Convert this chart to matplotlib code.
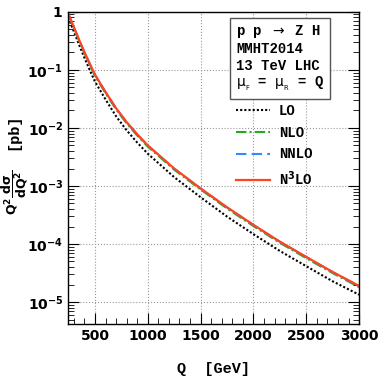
import numpy as np
import matplotlib
matplotlib.use('Agg')
import matplotlib.pyplot as plt
from matplotlib.ticker import FixedLocator, MultipleLocator, FuncFormatter, LogLocator, NullFormatter

# invariant mass Q [GeV] and Q^2 dsigma/dQ^2 [pb]
q = [250, 300, 350, 400, 450, 500, 600, 700, 800, 900, 1000,
     1250, 1500, 1750, 2000, 2250, 2500, 2750, 3000]
lo = [0.79, 0.46, 0.27, 0.162, 0.100, 0.063, 0.031, 0.0159, 0.0091, 0.0056, 0.0036,
      1.42e-3, 6.4e-4, 2.97e-4, 1.48e-4, 7.6e-5, 4.15e-5, 2.28e-5, 1.34e-5]
nlo = [0.88, 0.525, 0.315, 0.195, 0.123, 0.079, 0.0398, 0.0209, 0.0120, 0.0074, 0.00477,
       1.91e-3, 8.7e-4, 4.1e-4, 2.04e-4, 1.05e-4, 5.7e-5, 3.15e-5, 1.81e-5]
nnlo = [0.905, 0.545, 0.327, 0.202, 0.128, 0.0822, 0.0413, 0.0217, 0.0125, 0.0077, 0.00496,
        1.98e-3, 9.0e-4, 4.26e-4, 2.12e-4, 1.09e-4, 5.95e-5, 3.27e-5, 1.88e-5]
n3lo = [0.91, 0.55, 0.33, 0.204, 0.129, 0.083, 0.0417, 0.0219, 0.0126, 0.0078, 0.0050,
        2.0e-3, 9.1e-4, 4.3e-4, 2.14e-4, 1.10e-4, 6.0e-5, 3.3e-5, 1.9e-5]

mono = 'Liberation Mono'

fig = plt.figure(figsize=(3.82, 3.82), dpi=100)
ax = fig.add_axes([0.178, 0.152, 0.762, 0.817])

ax.plot(q, lo, color='black', ls=(0, (1, 1)), lw=1.5, label='LO')
ax.plot(q, nlo, color='#22aa22', ls=(0, (5, 1.5, 1, 1.5)), lw=1.5, label='NLO')
ax.plot(q, nnlo, color='#3388ff', ls=(0, (5, 2.5)), lw=1.5, label='NNLO')
ax.plot(q, n3lo, color='#ff4422', ls='-', lw=1.6, label=r'N$^\mathbf{3}$LO')

ax.set_yscale('log')
ax.set_xlim(245, 3000)
ax.set_ylim(4.2e-6, 1)

ax.xaxis.set_major_locator(FixedLocator([500, 1000, 1500, 2000, 2500, 3000]))
ax.xaxis.set_minor_locator(MultipleLocator(100))
ax.yaxis.set_major_locator(LogLocator(base=10, numticks=10))
ax.yaxis.set_minor_locator(LogLocator(base=10, subs=np.arange(2, 10), numticks=20))
ax.yaxis.set_minor_formatter(NullFormatter())


def ylab(v, pos):
    e = int(round(np.log10(v)))
    if e == 0:
        return r'$\mathbf{1}$'
    return r'$\mathbf{10^{%d}}$' % e


ax.yaxis.set_major_formatter(FuncFormatter(ylab))
ax.tick_params(which='both', direction='in', right=True, top=False)
ax.tick_params(which='major', length=8, width=0.8, labelsize=10)
ax.tick_params(which='minor', length=4, width=0.6)
for t in ax.get_xticklabels():
    t.set_fontweight('bold')

ax.grid(True, which='major', ls=':', color='#999999', lw=0.8)
for s in ax.spines.values():
    s.set_linewidth(1.0)

ax.set_xlabel('Q  [GeV]', family=mono, weight='bold', fontsize=11, labelpad=14)
# y label in two pieces: the fraction and the unit
fig.text(0.040, 0.497, r'$\mathbf{Q^2\dfrac{d\sigma}{dQ^2}}$', rotation=90,
         ha='center', va='center', fontsize=9)
fig.text(0.034, 0.654, '[pb]', rotation=90, ha='center', va='center',
         family=mono, weight='bold', fontsize=11)

ax.text(0.577, 0.965, 'p p $\\rightarrow$ Z H\nMMHT2014\n13 TeV LHC\n$\\mathrm{\\mu_{_F}}$ = $\\mathrm{\\mu_{_R}}$ = Q',
        transform=ax.transAxes, family=mono, weight='bold', fontsize=10, va='top', ha='left',
        linespacing=1.22,
        bbox=dict(boxstyle='square,pad=0.42', fc='white', ec='#555555', lw=1.0))

leg = ax.legend(loc='upper left', bbox_to_anchor=(0.557, 0.722), frameon=False,
                prop=dict(family=mono, weight='bold', size=10),
                handlelength=2.5, handletextpad=0.6, labelspacing=0.55, borderaxespad=0)

fig.savefig('out.png', dpi=100)
